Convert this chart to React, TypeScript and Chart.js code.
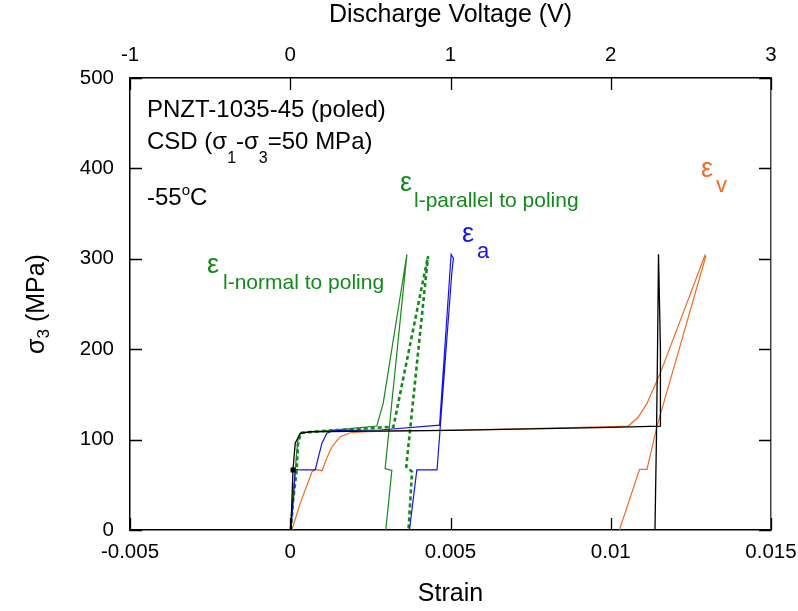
import React, { useEffect, useRef } from 'react';
import { Chart, registerables } from 'chart.js';

Chart.register(...registerables);

const FONT = '"Liberation Sans", Arial, Helvetica, sans-serif';

// ---- Axis ranges / ticks ----
const strainMin = -0.005;
const strainMax = 0.015;
const strainStep = 0.005;
const strainTickLabels = ['-0.005', '0', '0.005', '0.01', '0.015'];
const voltMin = -1;
const voltMax = 3;
const voltTickLabels = ['-1', '0', '1', '2', '3'];
const stressMin = 0;
const stressMax = 500;
const stressStep = 100;

// ---- ε_l normal to poling (green solid) ----
const normalStrain = [0, 0.00005, 0.00012, 0.000156, 0.0002, 0.00024, 0.00033, 0.001, 0.0018, 0.0027, 0.0029, 0.00364, 0.00296, 0.00317, 0.00298];
const normalStress = [0, 20, 50, 66, 85, 100, 107.6, 109.5, 111.8, 115, 140, 305, 68, 66, 0];

// ---- ε_l parallel to poling (green dotted) ----
const parallelStrain = [0.00002, 0.00008, 0.0002, 0.00024, 0.00033, 0.0012, 0.0022, 0.00322, 0.0043, 0.00362, 0.0038, 0.00369];
const parallelStress = [0, 30, 66, 95, 107.6, 110, 112, 114.3, 303, 70, 64.5, 0];

// ---- ε_a axial (blue) ----
const axialStrain = [0.00002, 0.0001, 0.000156, 0.00031, 0.00078, 0.00088, 0.00099, 0.00114, 0.00135, 0.0028, 0.00466, 0.00502, 0.00509, 0.00504, 0.00458, 0.00395, 0.00372];
const axialStress = [0, 35, 67, 66.4, 66.4, 81, 96, 107, 110, 110.6, 116, 305, 300.5, 284, 66.4, 66.4, 0];

// ---- ε_v volumetric (orange) ----
const volStrain = [0.00005, 0.00031, 0.00068, 0.00078, 0.00099, 0.00114, 0.0013, 0.00156, 0.00187, 0.00239, 0.0035, 0.006, 0.0085, 0.01055, 0.01086, 0.01113, 0.01154, 0.01294, 0.01296, 0.01144, 0.01113, 0.0109, 0.01027];
const volStress = [0, 29.5, 64.5, 67, 65.6, 79.3, 92, 103.2, 107.6, 108.7, 109.5, 111, 113, 115, 125, 140, 173, 304, 302, 114.3, 67, 67, 0];

// ---- Discharge voltage (black, top axis) ----
const voltage = [0.004, 0.017, 0.031, 0.062, 0.124, 0.5, 1.0, 1.5, 2.0, 2.308, 2.31, 2.298, 2.292, 2.285, 2.276];
const voltageStress = [0, 66.4, 96, 107, 108.7, 109.3, 110.2, 111.8, 113.5, 115, 200, 305, 200, 100, 0];

// ---- Text ----
const topTitle = 'Discharge Voltage (V)';
const bottomTitle = 'Strain';
const specimenLabel = 'PNZT-1035-45 (poled)';
const temperatureLabel = '-55';

const GREEN = '#12891a';
const BLUE = '#1414e6';
const ORANGE = '#f26a26';

function pts(xs: number[], ys: number[]) {
  return xs.map((x, i) => ({ x, y: ys[i] }));
}

type Run = { t: string; size: number; dy?: number };

function runsWidth(ctx: CanvasRenderingContext2D, runs: Run[]) {
  let w = 0;
  for (const r of runs) {
    ctx.font = `${r.size}px ${FONT}`;
    w += ctx.measureText(r.t).width;
  }
  return w;
}

function drawRuns(ctx: CanvasRenderingContext2D, runs: Run[], x: number, y: number, color: string) {
  let cx = x;
  ctx.fillStyle = color;
  ctx.textAlign = 'left';
  ctx.textBaseline = 'alphabetic';
  for (const r of runs) {
    ctx.font = `${r.size}px ${FONT}`;
    ctx.fillText(r.t, cx, y + (r.dy || 0));
    cx += ctx.measureText(r.t).width;
  }
}

const annotPlugin = {
  id: 'annotPlugin',
  afterDraw(chart: any) {
    const ctx: CanvasRenderingContext2D = chart.ctx;
    const { left, right, top, bottom } = chart.chartArea;
    const sx = chart.scales.x;
    const sx2 = chart.scales.x2;
    const sy = chart.scales.y;
    const sy2 = chart.scales.y2;
    ctx.save();
    // inward tick marks
    const TL = 12;
    ctx.strokeStyle = '#000';
    ctx.lineWidth = 1.3;
    ctx.beginPath();
    sx.ticks.forEach((t: any) => {
      const p = Math.round(sx.getPixelForValue(t.value)) + 0.5;
      ctx.moveTo(p, bottom);
      ctx.lineTo(p, bottom - TL);
    });
    sx2.ticks.forEach((t: any) => {
      const p = Math.round(sx2.getPixelForValue(t.value)) + 0.5;
      ctx.moveTo(p, top);
      ctx.lineTo(p, top + TL);
    });
    sy.ticks.forEach((t: any) => {
      const p = Math.round(sy.getPixelForValue(t.value)) + 0.5;
      ctx.moveTo(left, p);
      ctx.lineTo(left + TL, p);
    });
    sy2.ticks.forEach((t: any) => {
      const p = Math.round(sy2.getPixelForValue(t.value)) + 0.5;
      ctx.moveTo(right, p);
      ctx.lineTo(right - TL, p);
    });
    ctx.stroke();

    // axis titles
    ctx.fillStyle = '#000';
    ctx.textAlign = 'center';
    ctx.textBaseline = 'alphabetic';
    ctx.font = `25px ${FONT}`;
    ctx.fillText(topTitle, (left + right) / 2, 22);
    ctx.fillText(bottomTitle, (left + right) / 2, 601);

    // rotated y title: σ3 (MPa)
    const yRuns: Run[] = [
      { t: 'σ', size: 25 },
      { t: '3', size: 17, dy: 5 },
      { t: ' (MPa)', size: 25 },
    ];
    ctx.save();
    ctx.translate(43.5, (top + bottom) / 2);
    ctx.rotate(-Math.PI / 2);
    const yw = runsWidth(ctx, yRuns);
    drawRuns(ctx, yRuns, -yw / 2, 0, '#000');
    ctx.restore();

    // specimen annotations
    drawRuns(ctx, [{ t: specimenLabel, size: 24 }], 147, 117, '#000');
    drawRuns(
      ctx,
      [
        { t: 'CSD (σ', size: 24 },
        { t: '1', size: 16, dy: 14 },
        { t: '-σ', size: 24 },
        { t: '3', size: 16, dy: 14 },
        { t: '=50 MPa)', size: 24 },
      ],
      147,
      149,
      '#000'
    );
    drawRuns(
      ctx,
      [
        { t: temperatureLabel, size: 24 },
        { t: 'o', size: 15, dy: -10 },
        { t: 'C', size: 24 },
      ],
      147,
      205,
      '#000'
    );

    // curve labels
    drawRuns(ctx, [{ t: 'ε', size: 27 }], 207, 273, GREEN);
    drawRuns(ctx, [{ t: 'l-normal to poling', size: 21 }], 223, 289, GREEN);
    drawRuns(ctx, [{ t: 'ε', size: 27 }], 400, 191, GREEN);
    drawRuns(ctx, [{ t: 'l-parallel to poling', size: 21 }], 414, 207, GREEN);
    drawRuns(ctx, [{ t: 'ε', size: 27 }], 462, 242, BLUE);
    drawRuns(ctx, [{ t: 'a', size: 22 }], 477, 258, BLUE);
    drawRuns(ctx, [{ t: 'ε', size: 27 }], 701, 177, ORANGE);
    drawRuns(ctx, [{ t: 'v', size: 22 }], 716, 192, ORANGE);

    ctx.restore();
  },
};

function zeroPad(s: any) {
  s.paddingLeft = 0;
  s.paddingRight = 0;
  s.paddingTop = 0;
  s.paddingBottom = 0;
}

export default function App() {
  const canvasRef = useRef<HTMLCanvasElement | null>(null);

  useEffect(() => {
    if (!canvasRef.current) return;
    const tickFont = { family: FONT, size: 20.5 };
    const borderCfg = { display: true, color: '#000', width: 1.5 };
    const gridCfg = { display: true, drawOnChartArea: false, drawTicks: false };
    const chart = new Chart(canvasRef.current, {
      type: 'line',
      data: {
        datasets: [
          {
            label: 'Discharge voltage',
            data: pts(voltage, voltageStress),
            xAxisID: 'x2',
            yAxisID: 'y',
            borderColor: '#000',
            backgroundColor: '#000',
            borderWidth: 1.3,
            pointRadius: (c: any) => (c.dataIndex === 1 ? 2.5 : 0),
            pointStyle: 'rect',
            tension: 0,
            order: 1,
          },
          {
            label: 'ε_l normal to poling',
            data: pts(normalStrain, normalStress),
            xAxisID: 'x',
            yAxisID: 'y',
            borderColor: GREEN,
            borderWidth: 1.2,
            pointRadius: 0,
            tension: 0,
            order: 3,
          },
          {
            label: 'ε_l parallel to poling',
            data: pts(parallelStrain, parallelStress),
            xAxisID: 'x',
            yAxisID: 'y',
            borderColor: GREEN,
            borderWidth: 2.6,
            borderDash: [4, 3],
            pointRadius: 0,
            tension: 0,
            order: 4,
          },
          {
            label: 'ε_a',
            data: pts(axialStrain, axialStress),
            xAxisID: 'x',
            yAxisID: 'y',
            borderColor: BLUE,
            borderWidth: 1.2,
            pointRadius: 0,
            tension: 0,
            order: 2,
          },
          {
            label: 'ε_v',
            data: pts(volStrain, volStress),
            xAxisID: 'x',
            yAxisID: 'y',
            borderColor: ORANGE,
            borderWidth: 1.2,
            pointRadius: 0,
            tension: 0,
            order: 5,
          },
        ],
      },
      options: {
        responsive: false,
        animation: false,
        layout: { padding: 0 },
        plugins: { legend: { display: false }, tooltip: { enabled: false } },
        scales: {
          x: {
            type: 'linear',
            position: 'bottom',
            min: strainMin,
            max: strainMax,
            ticks: {
              stepSize: strainStep,
              autoSkip: false,
              maxRotation: 0,
              color: '#000',
              font: tickFont,
              padding: 10,
              callback: (v: any) => strainTickLabels[Math.round((Number(v) - strainMin) / strainStep)] ?? '',
            },
            grid: gridCfg,
            border: borderCfg,
            afterFit: (s: any) => {
              s.height = 81;
              zeroPad(s);
            },
          },
          x2: {
            type: 'linear',
            position: 'top',
            min: voltMin,
            max: voltMax,
            ticks: {
              stepSize: 1,
              autoSkip: false,
              maxRotation: 0,
              color: '#000',
              font: tickFont,
              padding: 10,
              callback: (v: any) => voltTickLabels[Math.round(Number(v) - voltMin)] ?? '',
            },
            grid: gridCfg,
            border: borderCfg,
            afterFit: (s: any) => {
              s.height = 78;
              zeroPad(s);
            },
          },
          y: {
            type: 'linear',
            position: 'left',
            min: stressMin,
            max: stressMax,
            ticks: { stepSize: stressStep, color: '#000', font: tickFont, padding: 16 },
            grid: gridCfg,
            border: borderCfg,
            afterFit: (s: any) => {
              s.width = 130;
              zeroPad(s);
            },
          },
          y2: {
            type: 'linear',
            position: 'right',
            min: stressMin,
            max: stressMax,
            ticks: { stepSize: stressStep, display: false },
            grid: gridCfg,
            border: { display: true, color: '#444', width: 1.5 },
            afterFit: (s: any) => {
              s.width = 27;
              zeroPad(s);
            },
          },
        },
      },
      plugins: [annotPlugin],
    } as any);
    return () => chart.destroy();
  }, []);

  return (
    <div style={{ position: 'fixed', left: 0, top: 0, width: 798, height: 611, background: '#fff' }}>
      <canvas ref={canvasRef} width={798} height={611} style={{ display: 'block' }} />
    </div>
  );
}
